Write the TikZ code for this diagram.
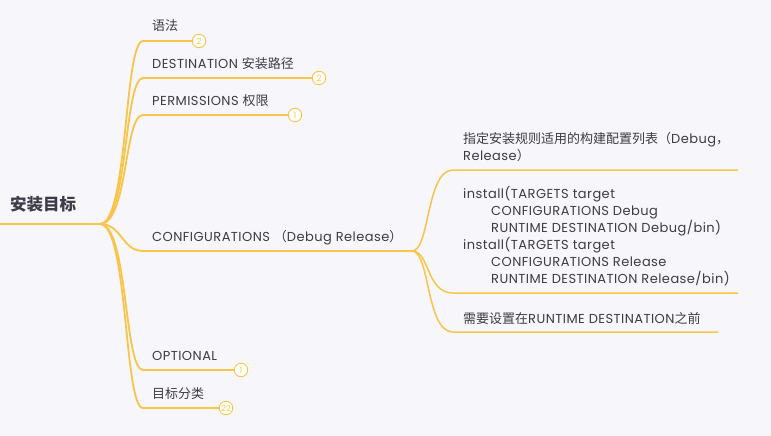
\documentclass[tikz,border=0pt]{standalone}
\usepackage{fontspec}
\setmainfont{Poppins}[LetterSpace=3.5]
\newfontfamily\cjk{Noto Sans CJK SC}
\newfontfamily\badgefont{Poppins}
\definecolor{bgc}{HTML}{F7F6FA}
\definecolor{ylw}{HTML}{F8C54B}
\definecolor{txt}{HTML}{3C3C46}
\begin{document}
\begin{tikzpicture}[x=1pt,y=-1pt,
  lbl/.style={anchor=base west,inner sep=0pt,text=txt,font=\fontsize{13}{17}\selectfont},
  badge/.style={circle,draw=ylw,fill=white,line width=0.9pt,minimum size=13.5pt,inner sep=0pt,text=ylw,font=\badgefont\fontsize{8.5}{9}\selectfont},
  br/.style={draw=ylw,line width=1.8pt},
  cbr/.style={draw=ylw,line width=1.5pt}]
\fill[bgc] (0,0) rectangle (771,436);
\useasboundingbox (0,0) rectangle (771,436);
% root
\node[anchor=base west,inner sep=0pt,text=txt,font=\fontsize{16.5}{18}\selectfont\cjk\bfseries] (root) at (10,210) {安装目标};
\coordinate (r0) at (0,224);
\coordinate (rj) at (100,224);
\draw[br] (r0) -- (rj);
% first level labels
\node[lbl] (l1) at (152,31) {\cjk 语法};
\node[lbl] (l2) at (152,68) {DESTINATION {\cjk 安装路径}};
\node[lbl] (l3) at (152,105) {PERMISSIONS {\cjk 权限}};
\node[lbl] (l4) at (152,241) {CONFIGURATIONS {\cjk （}Debug Release{\cjk ）}};
\node[lbl] (l5) at (152,360) {OPTIONAL};
\node[lbl] (l6) at (152,398) {\cjk 目标分类};
% badges
\node[badge] (g1) at (199,41) {2};
\node[badge] (g2) at (319,78) {2};
\node[badge] (g3) at (295,115) {1};
\node[badge] (g5) at (241,370) {1};
\node[badge] (g6) at (226,408) {22};
% branch starts
\coordinate (s1) at (143,41);
\coordinate (s2) at (143,78);
\coordinate (s3) at (143,115);
\coordinate (s4) at (143,251);
\coordinate (s5) at (143,370);
\coordinate (s6) at (143,408);
\coordinate (cj) at (412,251);
\draw[br] (rj) .. controls (128,224) and (124,41) .. (s1) -- (g1.west);
\draw[br] (rj) .. controls (128,224) and (124,78) .. (s2) -- (g2.west);
\draw[br] (rj) .. controls (128,224) and (124,115) .. (s3) -- (g3.west);
\draw[br] (rj) .. controls (122,224) and (122,251) .. (s4) -- (cj);
\draw[br] (rj) .. controls (128,224) and (124,370) .. (s5) -- (g5.west);
\draw[br] (rj) .. controls (128,224) and (124,408) .. (s6) -- (g6.west);
% children
\node[lbl,align=left] (c1) at (463,160) {{\cjk 指定安装规则适用的构建配置列表（}Debug{\cjk ，}\\Release{\cjk ）}};
\node[lbl,align=left] (c2) at (463,283) {install(TARGETS target\\\hspace*{28pt}CONFIGURATIONS Debug\\\hspace*{28pt}RUNTIME DESTINATION Debug/bin)\\install(TARGETS target\\\hspace*{28pt}CONFIGURATIONS Release\\\hspace*{28pt}RUNTIME DESTINATION Release/bin)};
\node[lbl] (c3) at (463,323) {{\cjk 需要设置在}RUNTIME DESTINATION{\cjk 之前}};
\coordinate (t1) at (453,170);
\coordinate (t2) at (453,293);
\coordinate (t3) at (453,332);
\coordinate (e1) at (738,170);
\coordinate (e2) at (738,293);
\coordinate (e3) at (718,332);
\draw[cbr] (cj) .. controls (430,251) and (426,170) .. (t1) -- (e1);
\draw[cbr] (cj) .. controls (430,251) and (426,293) .. (t2) -- (e2);
\draw[cbr] (cj) .. controls (430,251) and (426,332) .. (t3) -- (e3);
\end{tikzpicture}
\end{document}
